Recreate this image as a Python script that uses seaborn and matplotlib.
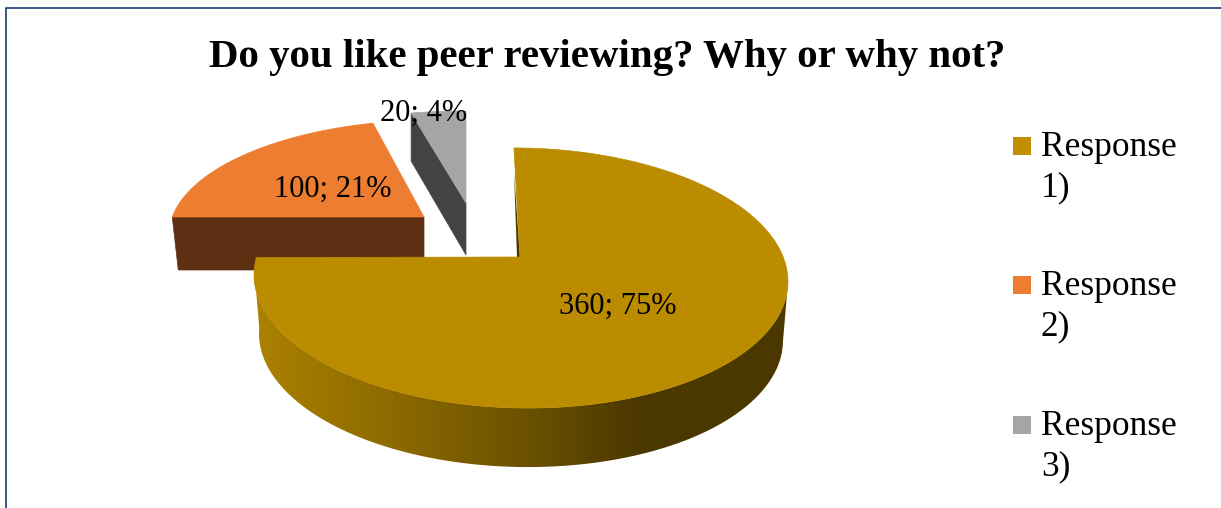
import numpy as np
import matplotlib
matplotlib.use("Agg")
import matplotlib.pyplot as plt
from matplotlib.colors import to_rgb
from matplotlib.lines import Line2D
from matplotlib.patches import Polygon, Rectangle
import seaborn as sns

# Survey results
title = "Do you like peer reviewing? Why or why not?"
responses = ["Response\n1)", "Response\n2)", "Response\n3)"]
counts = [360, 100, 20]

sns.set_theme(style="white")
plt.rcParams["font.family"] = ["Liberation Serif", "DejaVu Serif"]

top_colors = sns.color_palette(["#BB8C00", "#ED7D31", "#A5A5A5"])
legend_colors = sns.color_palette(["#BF8F00", "#ED7D31", "#A5A5A5"])
side_colors = sns.color_palette(["#4B3800", "#5F2F13", "#434343"])

fig = plt.figure(figsize=(12.21, 5.08), dpi=100)
ax = fig.add_axes([0, 0, 1, 1])
ax.set_xlim(0, 1221)
ax.set_ylim(508, 0)
ax.axis("off")


def rim(center, radii, turn, tilt=0.0):
    """Point on an elliptical rim; turn is degrees clockwise from twelve o'clock."""
    t = np.radians(np.asarray(turn, dtype=float))
    a = np.radians(tilt)
    dx = radii[0] * np.sin(t)
    dy = -radii[1] * np.cos(t)
    x = center[0] + dx * np.cos(a) - dy * np.sin(a)
    y = center[1] + dx * np.sin(a) + dy * np.cos(a)
    return np.column_stack([x, y])


# Slice angles follow from the counts, starting at twelve o'clock
total = sum(counts)
ends = np.cumsum(counts) / total * 360
starts = np.concatenate([[0], ends[:-1]])
labels = [f"{c}; {round(c / total * 100)}%" for c in counts]


def wedge_arc(i, center, radii, offset, stretch, tilt=0.0):
    angles = np.linspace(starts[i], ends[i], 160)
    return rim(center, radii, offset + stretch * angles, tilt)


# Orange slice, pulled out to the upper left
arc_stretch = 67.5 / 75
arc = wedge_arc(1, (435, 235), (266, 115), 279 - 270 * arc_stretch, arc_stretch)
apex = np.array([424, 217])
ax.fill(*zip(arc[0], apex, apex + [0, 53], arc[0] + [6, 53]),
        color=side_colors[1], lw=0.5, zorder=1)
ax.fill(*np.vstack([apex, arc]).T, color=top_colors[1], lw=0.5, zorder=2)

# Grey slice, pulled out towards the top
arc = wedge_arc(2, (466, 171), (212, 60), -360, 1.0)
apex = np.array([466, 203])
ax.fill(*zip(arc[0], apex, apex + [0, 52], arc[0] + [0, 48]),
        color=side_colors[2], lw=0.5, zorder=1)
ax.fill(*np.vstack([apex, arc]).T, color=top_colors[2], lw=0.5, zorder=2)

# Main slice: outer wall shaded by a horizontal gradient clipped to its outline
top_c, top_r = (521, 278), (267, 130)
low_c, low_r = (521, 337), (262, 130)
wall_turns = np.arange(90, 272.5, 0.5)
upper = rim(top_c, top_r, wall_turns, 1.0)
lower = rim(low_c, low_r, wall_turns, 1.0)
outline = np.vstack([upper, lower[::-1]])
shade_x = [262, 400, 520, 640]
shade_c = np.array([to_rgb(c) for c in ["#AA8000", "#8B6900", "#6C5200", "#4B3800"]])
columns = np.arange(240, 800)
ramp = np.stack([np.interp(columns, shade_x, shade_c[:, n]) for n in range(3)], axis=-1)[None, :, :]
wall_image = ax.imshow(ramp, extent=(240, 800, 500, 250), aspect="auto", zorder=3,
                       interpolation="bilinear")
wall_clip = Polygon(outline, closed=True, transform=ax.transData, facecolor="none", edgecolor="none")
ax.add_patch(wall_clip)
wall_image.set_clip_path(wall_clip)
ax.set_xlim(0, 1221)
ax.set_ylim(508, 0)

arc = wedge_arc(0, top_c, top_r, -2, 279 / 270, 1.0)
apex = np.array([520, 257])
ax.fill(*zip((514, 172), (517, 257), apex), color=side_colors[0], lw=0, zorder=3)
ax.fill(*np.vstack([apex, arc]).T, color=top_colors[0], lw=0.5, zorder=4)

# Value labels
label_xy = [(617.5, 306), (332.5, 189), (423.5, 113)]
for text, (x, y) in zip(labels, label_xy):
    ax.text(x, y, text, ha="center", va="center", fontsize=22, color="black", zorder=5)

ax.text(607.5, 58, title, ha="center", va="center", fontsize=29.4, fontweight="bold", color="black")

# Legend
legend_y = [137, 276, 416]
for name, color, y in zip(responses, legend_colors, legend_y):
    ax.add_patch(Rectangle((1013, y), 18, 18, facecolor=color, edgecolor="none"))
    first, second = name.split("\n")
    ax.text(1041, y + 19, first, ha="left", va="baseline", fontsize=25.5, color="black")
    ax.text(1041, y + 59, second, ha="left", va="baseline", fontsize=25.5, color="black")

# Chart area frame: top and left edges fall inside the canvas
frame_x = [6, 6, 1221]
frame_y = [508, 8, 8]
ax.add_line(Line2D(frame_x, frame_y, color="#2A4A7F", lw=1.3, zorder=0))

fig.savefig("out.png", dpi=100, facecolor="white")
